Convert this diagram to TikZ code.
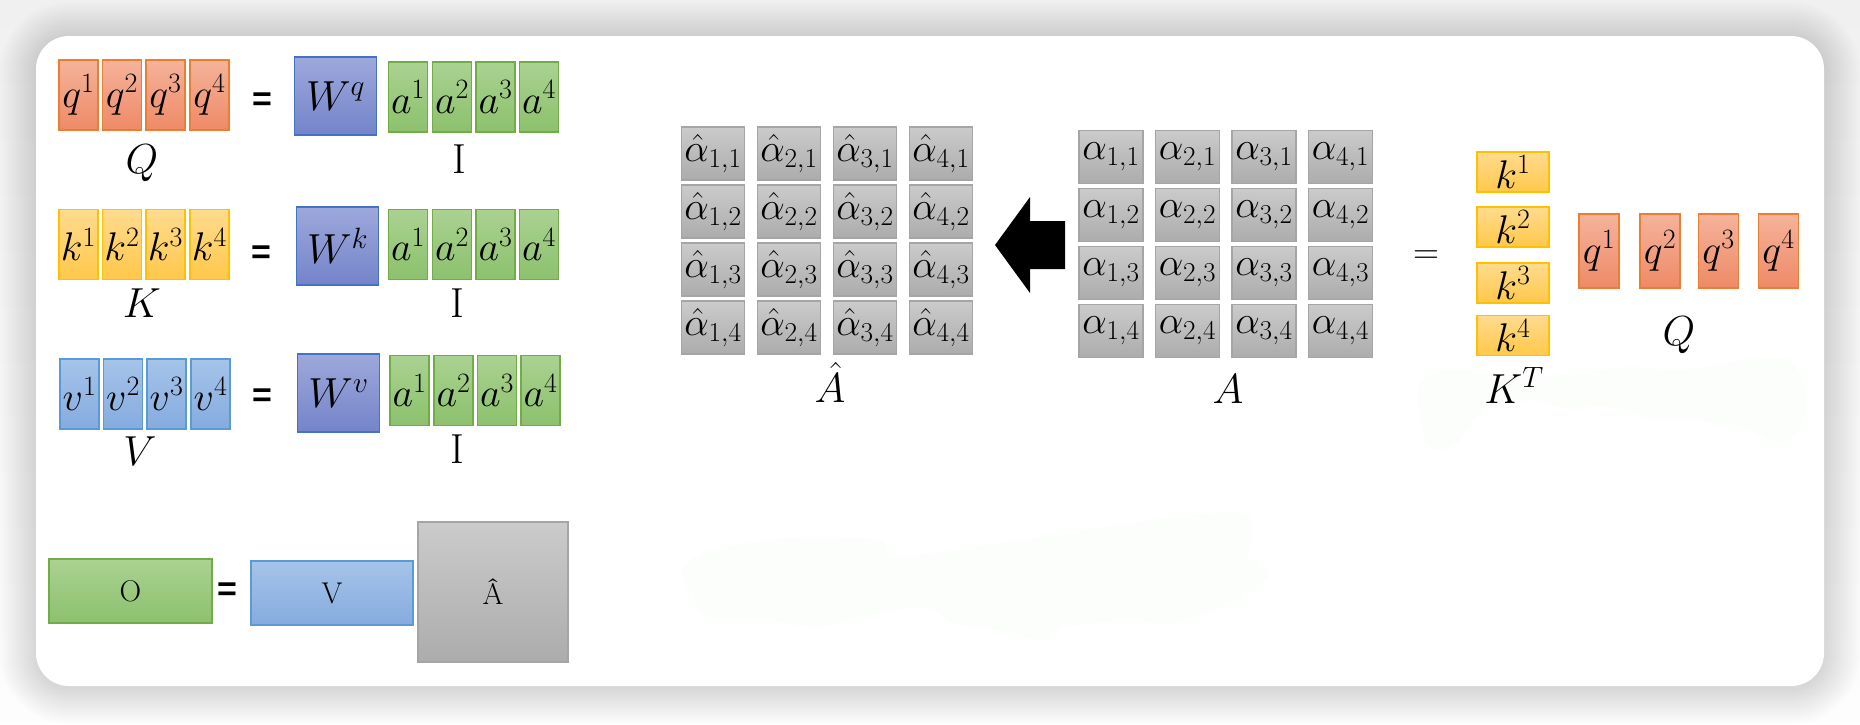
\RequirePackage{fix-cm}
\documentclass[tikz,border=0pt]{standalone}
\usepackage{fontspec}
\newfontfamily\eqsans{Liberation Sans}

\definecolor{bgtop}{HTML}{F0F0F0}
\definecolor{bgbot}{HTML}{FDFDFD}
\definecolor{blobcol}{HTML}{FCFEFB}
\definecolor{qedge}{HTML}{ED7D31}
\definecolor{qtop}{HTML}{F5B39B}
\definecolor{qbot}{HTML}{EE8A66}
\definecolor{kedge}{HTML}{FFC000}
\definecolor{ktop}{HTML}{FFDB8E}
\definecolor{kbot}{HTML}{FFC84A}
\definecolor{vedge}{HTML}{5B9BD5}
\definecolor{vtop}{HTML}{A5C4E9}
\definecolor{vbot}{HTML}{85ABDF}
\definecolor{wedge}{HTML}{4472C4}
\definecolor{wtop}{HTML}{9DA8DB}
\definecolor{wbot}{HTML}{7484CA}
\definecolor{aedge}{HTML}{70AD47}
\definecolor{agtop}{HTML}{AAD291}
\definecolor{agbot}{HTML}{8CC16D}
\definecolor{gedge}{HTML}{A5A5A5}
\definecolor{gtop}{HTML}{CBCBCB}
\definecolor{gbot}{HTML}{ACACAC}

\tikzset{
  mbox/.style={draw, line width=1.3pt, inner sep=0pt, font=\fontsize{40}{42}\selectfont},
  qbox/.style={mbox, draw=qedge, top color=qtop, bottom color=qbot},
  kbox/.style={mbox, draw=kedge, top color=ktop, bottom color=kbot},
  vcell/.style={mbox, draw=vedge, top color=vtop, bottom color=vbot},
  wbox/.style={mbox, draw=wedge, top color=wtop, bottom color=wbot, minimum width=82, minimum height=78, font=\fontsize{42}{44}\selectfont},
  abox/.style={mbox, draw=aedge, top color=agtop, bottom color=agbot},
  gbox/.style={mbox, draw=gedge, top color=gtop, bottom color=gbot},
  slim/.style={minimum width=39, minimum height=70},
  lbl/.style={inner sep=0pt, anchor=base, font=\fontsize{42}{44}\selectfont},
  boldeq/.style={inner sep=0pt, font=\eqsans\bfseries\fontsize{34}{34}\selectfont},
  flat/.style={font=\fontsize{30}{32}\selectfont},
  grid/.style={font=\fontsize{39}{41}\selectfont}
}

\begin{document}
\begin{tikzpicture}[x=1pt,y=-1pt]
% page, shadow and card
\shade[top color=bgtop, bottom color=bgbot] (0,0) rectangle (1860,722);
\foreach \i in {1,...,18}
  \fill[black, opacity=0.008, rounded corners={33+2*\i}] ({36-2*\i},{38-2*\i}) rectangle ({1824+2*\i},{688+2*\i});
\fill[white, rounded corners=33] (36,36) rectangle (1824,686);
\fill[blobcol] plot[smooth cycle] coordinates {(682,570) (707,552) (787,538) (877,540) (894,557) (975,547) (1086,530) (1176,517) (1243,513) (1252,537) (1247,557) (1269,573) (1243,597) (1176,623) (1131,620) (1064,627) (1042,640) (997,630) (953,623) (926,607) (863,617) (819,627) (765,620) (707,617) (689,590)};
\fill[blobcol] plot[smooth cycle] coordinates {(1417,397) (1430,373) (1463,370) (1530,377) (1580,373) (1630,367) (1680,370) (1747,360) (1787,360) (1805,387) (1803,423) (1780,443) (1747,430) (1697,420) (1653,420) (1613,407) (1563,407) (1530,400) (1480,413) (1457,443) (1430,447)};

% Q, K, V = W I
\foreach \i/\x in {1/78.5,2/122,3/165.5,4/209.5}{
  \node[qbox, slim] (q\i) at (\x,95) {$q^{\i}$};
  \node[kbox, slim] (k\i) at (\x,244.5) {$k^{\i}$};
  \node[vcell, slim] (v\i) at (\x+1,394) {$v^{\i}$};
}
\foreach \i/\x in {1/408,2/452,3/495.5,4/539}{
  \node[abox, slim] (aq\i) at (\x,97) {$a^{\i}$};
  \node[abox, slim] (ak\i) at (\x,244.5) {$a^{\i}$};
  \node[abox, slim] (av\i) at (\x+1.5,390.5) {$a^{\i}$};
}
\node[boldeq] (eqq) at (262,102) {=};
\node[boldeq] (eqk) at (261,255) {=};
\node[boldeq] (eqv) at (262,398) {=};
\node[wbox] (Wq) at (335.5,96) {$W^q$};
\node[wbox] (Wk) at (337.5,246) {$W^k$};
\node[wbox] (Wv) at (338.5,393) {$W^v$};
\node[lbl] (Qlab) at (142,173) {$Q$};
\node[lbl] (Iq) at (459,173) {I};
\node[lbl] (Klab) at (142,317) {$K$};
\node[lbl] (Ik) at (457,317) {I};
\node[lbl] (Vlab) at (140,465) {$V$};
\node[lbl] (Iv) at (457,463) {I};

% O = V Ahat
\node[abox, flat, minimum width=163, minimum height=64] (O) at (130.5,591) {O};
\node[boldeq] (eqo) at (227,592) {=};
\node[vcell, flat, minimum width=162, minimum height=64] (Vb) at (332,593) {V};
\node[gbox, flat, minimum width=150, minimum height=140] (Ab) at (493,592) {Â};

% softmax matrix
\foreach \c in {1,...,4}
  \foreach \r in {1,...,4}
    \node[gbox, grid, minimum width=63, minimum height=53] (ah\c\r) at ({713+76*(\c-1)},{153.5+58*(\r-1)}) {$\hat{\alpha}_{\c,\r}$};
\node[lbl] (Ahat) at (830,402) {$\hat{A}$};

\fill[black] (1065,221) -- (1030,221) -- (1030,197) -- (995,245) -- (1030,293) -- (1030,269) -- (1065,269) -- cycle;

% attention matrix
\foreach \c in {1,...,4}
  \foreach \r in {1,...,4}
    \node[gbox, grid, minimum width=64, minimum height=53] (al\c\r) at ({1111+76.5*(\c-1)},{157+58*(\r-1)}) {$\alpha_{\c,\r}$};
\node[lbl] (Alab) at (1228,403) {$A$};
\node[inner sep=0pt, font=\fontsize{36}{36}\selectfont] (eqa) at (1426,257) {$=$};

\foreach \i/\y in {1/172,2/227,3/283,4/335.5}
  \node[kbox, minimum width=72, minimum height=40] (kt\i) at (1513,\y) {$k^{\i}$};
\node[lbl] (KTlab) at (1514,403) {$K^T$};
\foreach \i/\x in {1/1599,2/1660,3/1718.5,4/1778.5}
  \node[qbox, minimum width=40, minimum height=74] (qr\i) at (\x,251) {$q^{\i}$};
\node[lbl] (Qrlab) at (1679,345) {$Q$};
\end{tikzpicture}
\end{document}
